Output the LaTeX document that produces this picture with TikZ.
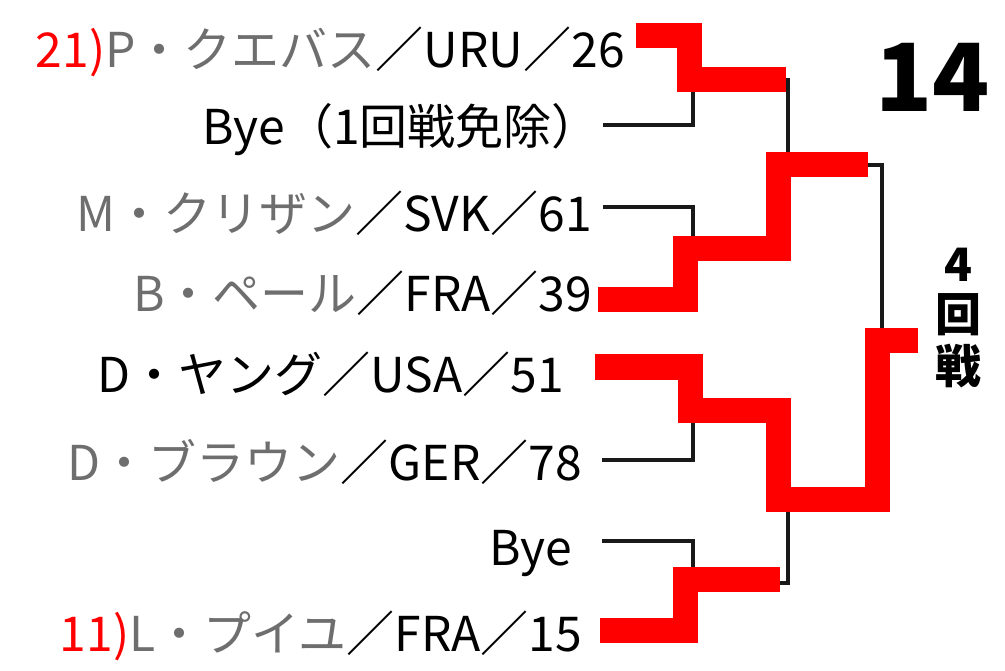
\documentclass[tikz,border=0pt]{standalone}
\usepackage{fontspec}
\setmainfont{Noto Sans CJK JP}
\usepackage{xcolor}
\usepackage{tikz}
\usetikzlibrary{positioning}

\definecolor{namegray}{HTML}{6E6E6E}
\newcommand{\gr}[1]{{\color{namegray}#1}}
\newcommand{\sd}[1]{{\color{red}#1}}

\begin{document}
\begin{tikzpicture}[x=1pt,y=-1pt,
  every node/.style={inner sep=0pt},
  player/.style={anchor=base east,font=\fontsize{48}{48}\selectfont},
  drawline/.style={line width=4.5pt,black!90},
  winline/.style={line width=25pt,red}]
  \useasboundingbox (0,0) rectangle (1005,671);

  % players
  \node[player] (cuevas)  at (625,68)  {\sd{21)}\gr{P・クエバス}／URU／26};
  \node[player] (bye1)    at (600,145) {Bye（1回戦免除）};
  \node[player] (klizan)  at (592,232) {\gr{M・クリザン}／SVK／61};
  \node[player] (paire)   at (592,312) {\gr{B・ペール}／FRA／39};
  \node[player] (young)   at (564,392) {D・ヤング／USA／51};
  \node[player] (brown)   at (582,480) {\gr{D・ブラウン}／GER／78};
  \node[player] (bye2)    at (572,565) {Bye};
  \node[player] (pouille) at (582,651) {\sd{11)}\gr{L・プイユ}／FRA／15};

  \node[anchor=base east,font=\bfseries\fontsize{94}{94}\selectfont] (num) at (990,112) {14};
  \node[anchor=base,font=\bfseries\fontsize{46}{46}\selectfont] (rd4a) at (958,282) {4};
  \node[anchor=base,font=\bfseries\fontsize{46}{46}\selectfont] (rd4b) at (958,332) {回};
  \node[anchor=base,font=\bfseries\fontsize{46}{46}\selectfont] (rd4c) at (958,384) {戦};

  % line starts
  \coordinate (s1) at (636,36);
  \coordinate (s2) at (603,125);
  \coordinate (s3) at (603,207);
  \coordinate (s4) at (598,300);
  \coordinate (s5) at (595,367);
  \coordinate (s6) at (602,460);
  \coordinate (s7) at (602,541);
  \coordinate (s8) at (600,630);

  % draw
  \draw[drawline] (s2) -- ++(90,0) -- ++(0,-33);
  \draw[drawline] (s3) -- ++(90,0) -- ++(0,31);
  \draw[drawline] (s6) -- ++(91,0) -- ++(0,-50);
  \draw[drawline] (s7) -- ++(91,0) -- ++(0,38);
  \draw[drawline] (780,80) -- (788,80) -- (788,165);
  \draw[drawline] (770,583) -- (788,583) -- (788,499);
  \draw[drawline] (860,165) -- (882,165) -- (882,341);

  % winners
  \draw[winline] (s1) -- ++(53,0) -- ++(0,44) -- ++(97,0);
  \draw[winline] (s4) -- ++(87,0) -- ++(0,-51) -- ++(93,0) -- ++(0,-84) -- ++(90,0);
  \draw[winline] (s5) -- ++(95,0) -- ++(0,43) -- ++(88,0) -- ++(0,89) -- ++(99,0) -- ++(0,-158) -- ++(41,0);
  \draw[winline] (s8) -- ++(85,0) -- ++(0,-51) -- ++(95,0);
\end{tikzpicture}
\end{document}
